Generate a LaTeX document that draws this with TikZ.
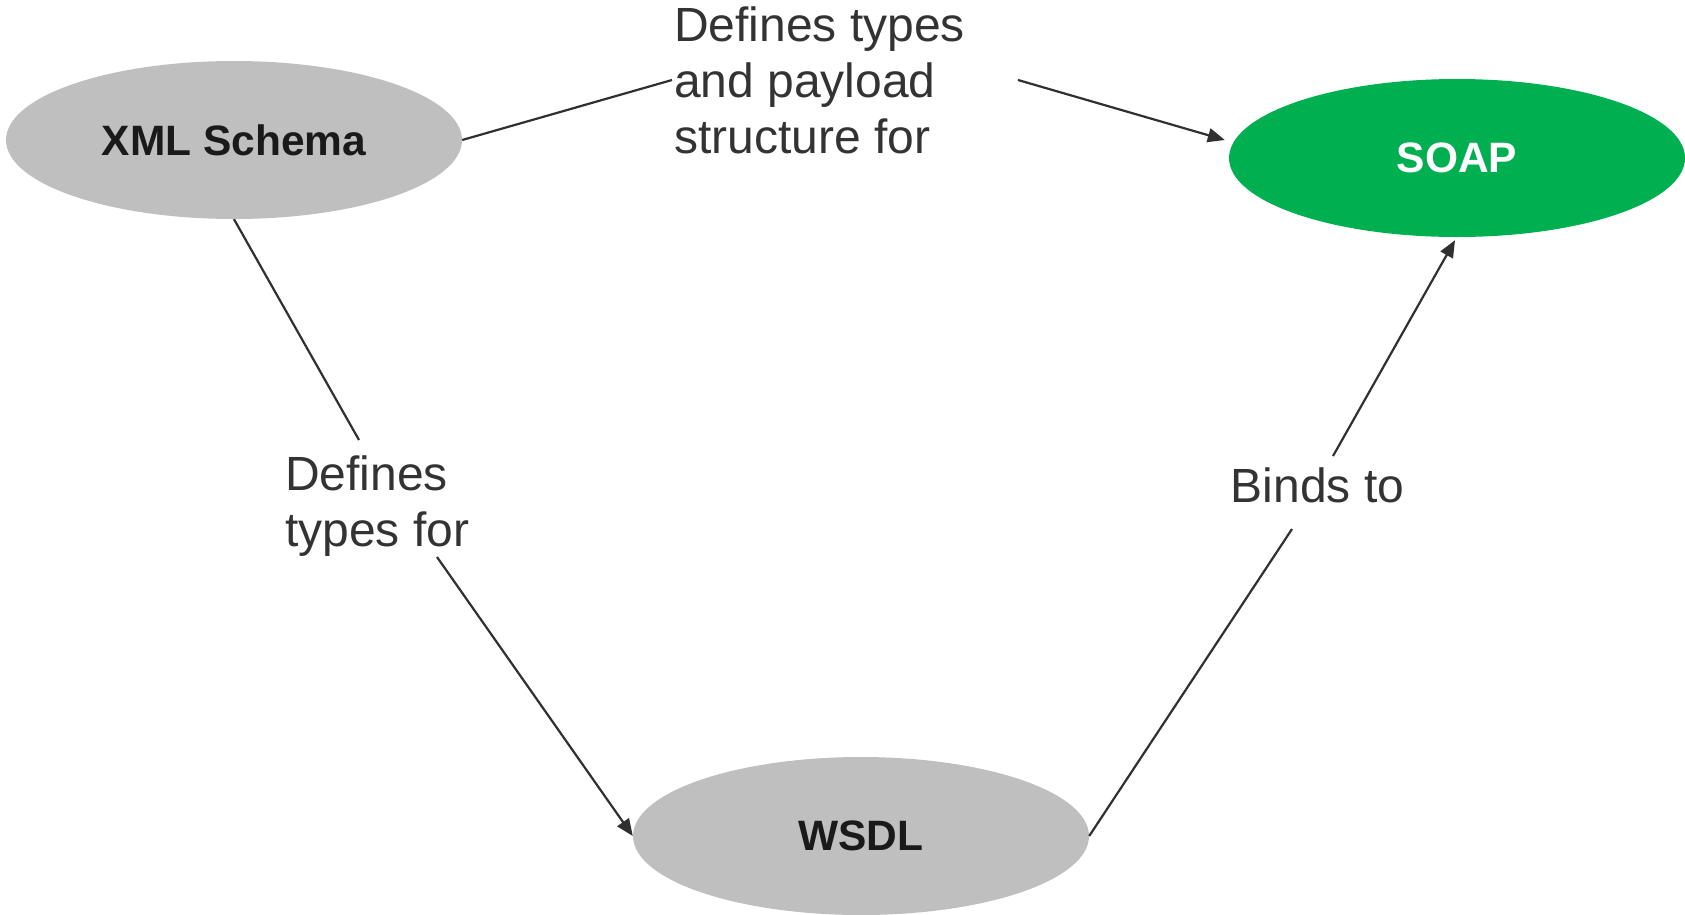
\documentclass[tikz,border=0pt]{standalone}
\usepackage{fontspec}
\setmainfont{Liberation Sans}
\usetikzlibrary{shapes.geometric,arrows.meta,calc}
\definecolor{nodegray}{HTML}{BFBFBF}
\definecolor{soapgreen}{HTML}{00B050}
\definecolor{inkdark}{HTML}{1A1A1A}
\definecolor{labelgray}{HTML}{333333}
\definecolor{linegray}{HTML}{303030}
\begin{document}
\begin{tikzpicture}[x=1pt,y=-1pt,
  concept/.style={ellipse, minimum width=456pt, minimum height=158pt, inner sep=0pt,
                  font=\fontsize{42.5}{50}\selectfont\bfseries},
  graynode/.style={concept, fill=nodegray, text=inkdark},
  greennode/.style={concept, fill=soapgreen, text=white},
  edgelabel/.style={anchor=base west, inner sep=0pt, align=left, text=labelgray,
                    font=\fontsize{48}{56}\selectfont},
  link/.style={draw=linegray, line width=2.2pt},
  arrowlink/.style={link, -{Triangle[length=17pt,width=14pt]}}
]
\useasboundingbox (0,0) rectangle (1685,914);

% technology nodes
\node[graynode]  (xml)  at (234,140) {XML Schema};
\node[greennode] (soap) at (1457,158) {SOAP};
\node[graynode]  (wsdl) at (861,836) {WSDL};

% relation labels (base = baseline of the last line)
\node[edgelabel] (lblA) at (674,153) {Defines types\\and payload\\structure for};
\node[edgelabel] (lblB) at (285,546) {Defines\\types for};
\node[edgelabel] (lblC) at (1230.5,502.7) {Binds to};

% where the connectors break around the labels
\coordinate (a1) at (672,80);
\coordinate (a2) at (1018,80);
\coordinate (b1) at (359,440);
\coordinate (b2) at (437,557);
\coordinate (c1) at (1292,529);
\coordinate (c2) at (1333,456);

% connectors
\draw[link] (xml.east) -- (a1);
\draw[arrowlink] (a2) -- ($(soap.west)+(-4,-18)$);
\draw[link] (xml.south) -- (b1);
\draw[arrowlink] (b2) -- (wsdl.west);
\draw[link] (wsdl.east) -- (c1);
\draw[arrowlink] (c2) -- ($(soap.south)+(-2,3)$);
\end{tikzpicture}
\end{document}
